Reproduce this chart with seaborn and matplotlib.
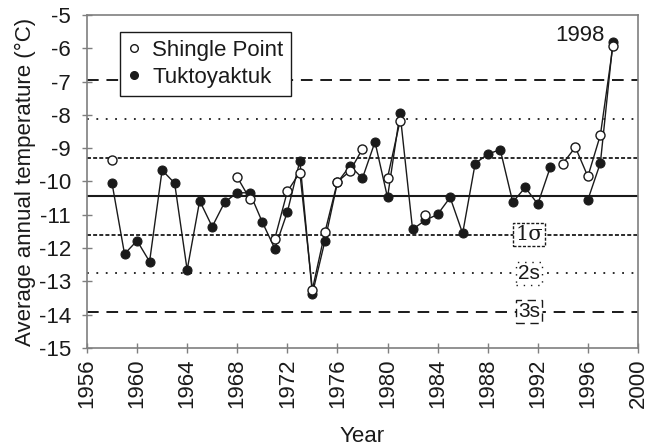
import numpy as np
import pandas as pd
import matplotlib
matplotlib.use("Agg")
import matplotlib.pyplot as plt
from matplotlib.lines import Line2D
import seaborn as sns

# values (nan = no data that year)
years = list(range(1958, 1999))
tuktoyaktuk = [-10.05, -12.18, -11.78, -12.41, -9.66, -10.05, -12.66, -10.58, -11.36,
               -10.62, -10.34, -10.34, -11.22, -12.02, -10.92, -9.38, -13.38, -11.79,
               -10.03, -9.53, -9.90, -8.81, -10.48, -7.94, -11.44, -11.17, -10.99,
               -10.48, -11.56, -9.46, -9.18, -9.04, -10.62, -10.18, -10.68, -9.57,
               np.nan, np.nan, -10.55, -9.44, -5.80]
shingle_point = [-9.36, np.nan, np.nan, np.nan, np.nan, np.nan, np.nan, np.nan, np.nan,
                 np.nan, -9.87, -10.52, np.nan, -11.72, -10.30, -9.73, -13.25, -11.53,
                 -10.01, -9.69, -9.02, np.nan, -9.89, -8.18, np.nan, -11.02, np.nan,
                 np.nan, np.nan, np.nan, np.nan, np.nan, np.nan, np.nan, np.nan, np.nan,
                 -9.46, -8.97, -9.85, -8.60, -5.93]

mean_temp = -10.44
sd_temp = 1.16
band_labels = ["1σ", "2s", "3s"]

sns.set_style("ticks")
plt.rcParams["font.family"] = ["Liberation Sans", "DejaVu Sans"]
plt.rcParams["axes.unicode_minus"] = False
ink = "#1a1a1a"
axis_grey = "#7f7f7f"
fs = 16


def segments(vals):
    df = pd.DataFrame({"year": years, "temp": vals})
    df["seg"] = df["temp"].isna().cumsum()
    return df.dropna()


fig = plt.figure(figsize=(6.49, 4.47), dpi=100)
ax = fig.add_axes([0.134, 0.222, 0.849, 0.744])

# reference lines: mean and 1, 2, 3 standard deviations
styles = [(0, (2.2, 1.2)), (0, (1, 4.2)), (0, (6, 4))]
widths = [1.3, 1.3, 1.4]
ax.axhline(mean_temp, color=ink, lw=1.5, zorder=1)
for k, (ls, lw, lab) in enumerate(zip(styles, widths, band_labels), start=1):
    for sign in (1, -1):
        ax.axhline(mean_temp + sign * k * sd_temp, color=ink, lw=lw, ls=ls, zorder=1)
    fam = ["DejaVu Serif"] if lab == "1σ" else None
    ax.text(1991.3, mean_temp - k * sd_temp, lab, ha="center", va="center",
            fontsize=fs - 1, color=ink, family=fam, zorder=3,
            bbox=dict(boxstyle="square,pad=0.1", fc="white", ec=ink, lw=1.0, ls=ls))

tuk = segments(tuktoyaktuk)
sns.lineplot(data=tuk, x="year", y="temp", units="seg", estimator=None, ax=ax,
             color=ink, lw=1.0, marker="o", markersize=6.5, markerfacecolor=ink,
             markeredgecolor=ink, zorder=4)
shp = segments(shingle_point)
sns.lineplot(data=shp, x="year", y="temp", units="seg", estimator=None, ax=ax,
             color=ink, lw=1.0, marker="o", markersize=6.5, markerfacecolor="white",
             markeredgecolor=ink, markeredgewidth=1.0, zorder=5)

ax.text(1997.3, -5.6, "1998", ha="right", va="center", fontsize=fs, color=ink)

ax.set_xlim(1956, 2000)
ax.set_ylim(-15, -5)
ax.set_xticks(range(1956, 2001, 4))
ax.set_yticks(range(-15, -4))
ax.tick_params(axis="x", labelrotation=90, pad=4)
ax.tick_params(axis="y", pad=8)
ax.tick_params(direction="inout", length=7, width=1, color=axis_grey,
               labelsize=fs, labelcolor=ink)
for side in ["left", "bottom", "top", "right"]:
    ax.spines[side].set_visible(True)
    ax.spines[side].set_color(axis_grey)
    ax.spines[side].set_linewidth(1.2)
ax.set_xlabel("Year", fontsize=fs, color=ink, labelpad=13)
ax.set_ylabel("Average annual temperature (°C)", fontsize=fs, color=ink, labelpad=2)

handles = [Line2D([], [], ls="none", marker="o", ms=5.5, mfc="white", mec=ink),
           Line2D([], [], ls="none", marker="o", ms=5.5, mfc=ink, mec=ink)]
leg = ax.legend(handles, ["Shingle Point", "Tuktoyaktuk"], loc="upper left",
                bbox_to_anchor=(0.06, 0.95), borderaxespad=0, fontsize=fs,
                frameon=True, fancybox=False, framealpha=1, handlelength=0.6,
                handletextpad=0.5, borderpad=0.35, labelspacing=0.3)
leg.get_frame().set_edgecolor(ink)
leg.get_frame().set_linewidth(1.0)
leg.set_zorder(6)
for t in leg.get_texts():
    t.set_color(ink)

fig.savefig("out.png", dpi=100)
